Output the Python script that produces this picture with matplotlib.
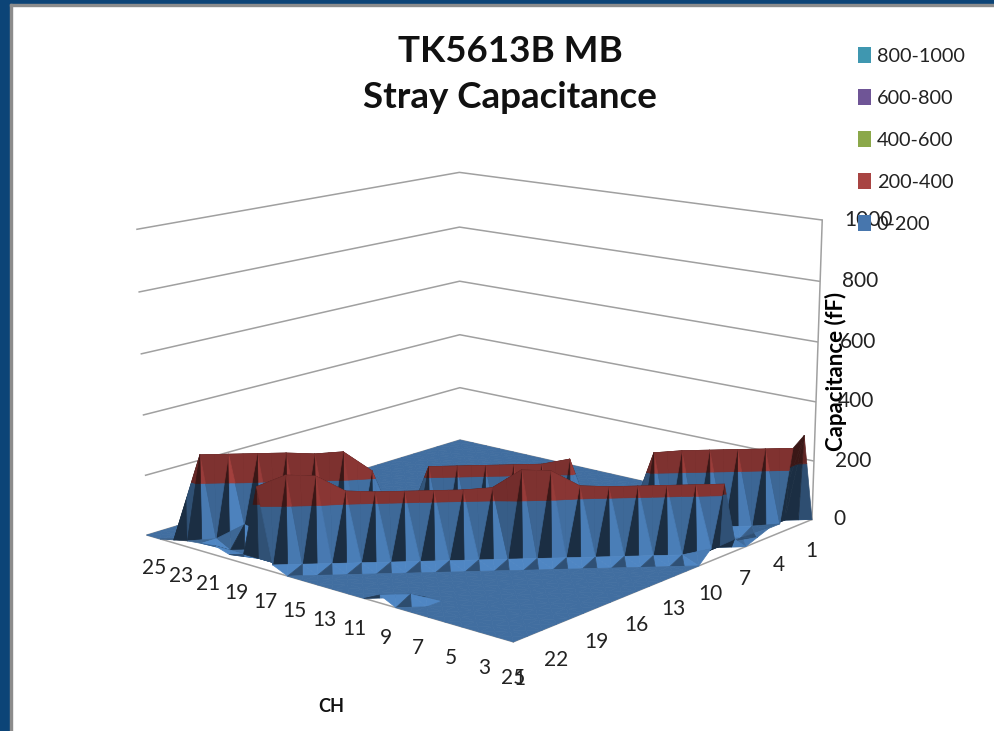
import matplotlib
matplotlib.use("Agg")
import numpy as np
import matplotlib.pyplot as plt
from matplotlib.patches import Patch, Rectangle
from mpl_toolkits.mplot3d import proj3d
from mpl_toolkits.mplot3d.art3d import Poly3DCollection

plt.rcParams['font.family'] = ['Lato', 'DejaVu Sans']

TITLE = "TK5613B MB\nStray Capacitance"
XLABEL = "CH"
ZLABEL = "Capacitance (fF)"
CH = list(range(1, 26))
CH_TICKS = [1, 3, 5, 7, 9, 11, 13, 15, 17, 19, 21, 23, 25]
ROW_TICKS = [1, 4, 7, 10, 13, 16, 19, 22, 25]
Z_TICKS = [0, 200, 400, 600, 800, 1000]
BAND_LABELS = ["800-1000", "600-800", "400-600", "200-400", "0-200"]
BAND_COLORS = ["#3f97b0", "#6f5596", "#8ba84a", "#a84442", "#4776ad"]

# rows: second axis 1..25, columns: CH 1..25
capacitance = [
    [  0,  0,  0,  0,  0,  0,  0,  0,  0,  0,  0,  0,  0,  0,  0,  0,  0,  0,  0,  0,  0,  0,  0,  0,  0],
    [300,  0,  0,  0,  0,  0,  0,  0,  0,  0,  0,  0,  0,  0,  0,  0,  0,  0,  0,  0,  0,  0,  0,  0,  0],
    [270,  0,  0,  0,  0,  0,  0,  0,  0,  0,  0,  0,  0,  0,  0,  0,  0,  0,  0,  0,  0,  0,  0,  0,  0],
    [ 30,270,  0,  0,  0,  0,  0,  0,  0,  0,  0,  0,  0,  0,  0,  0,  0,  0,  0,  0,  0,  0,  0,  0,  0],
    [ 30, 25,270,  0,  0,  0,  0,  0,  0,  0,  0,  0,  0,  0,  0,  0,  0,  0,  0,  0,  0,  0,  0,  0,  0],
    [ 15,  0, 25,270,  0,  0,  0,  0,  0,  0,  0,  0,  0,  0,  0,  0,  0,  0,  0,  0,  0,  0,  0,  0,  0],
    [  0,  0,  0, 25,270,  0,  0,  0,  0,  0,  0,  0,  0,  0,  0,  0,  0,  0,  0,  0,  0,  0,  0,  0,  0],
    [ 40,  0,  0,  0, 25,265,  0,  0,  0,  0,  0,  0,  0,  0,  0,  0,  0,  0,  0,  0,  0,  0,  0,  0,  0],
    [235,  0,  0,  0,  0,  0,  0,  0,  0,  0,  0,  0,  0,  0,  0,  0,  0,  0,  0,  0,  0,  0,  0,  0,  0],
    [ 40,235,  0,  0,  0,  0,  0,  0,  0,  0,  0,  0,  0,  0,  0,  0,  0,  0,  0,  0,  0,  0,  0,  0,  0],
    [  0, 22,235,  0,  0,  0,  0,  0,250,  0,  0,  0,  0,  0,  0,  0,  0,  0,  0,  0,  0,  0,  0,  0,  0],
    [  0,  0, 22,235,  0,  0,  0,  0,  0,235,  0,  0,  0,  0,  0,  0,  0,  0,  0,  0,  0,  0,  0,  0,  0],
    [  0,  0,  0, 22,235,  0,  0,  0,  0,  0,235,  0,  0,  0,  0,  0,  0,  0,  0,  0,  0,  0,  0,  0,  0],
    [  0,  0,  0,  0, 22,240,  0,  0,  0,  0,  0,235,  0,  0,  0,  0,  0,  0,  0,  0,  0,  0,  0,  0,  0],
    [  0,  0,  0,  0,  0, 22,290,  0,  0,  0,  0,  0,235,  0,  0,  0,  0,  0,  0,  0,  0,  0,  0,  0,  0],
    [  0,  0,  0,  0,  0,  0, 22,295,  0,  0,  0,  0,  0,235,  0,  0,  0,  0,  0,  0,  0,  0,  0,  0,  0],
    [  0,  0,  0,  0,  0,  0,  0, 22,240,  0,  0,  0,  0,  0,  0,  0,  0,  0,  0,  0,  0,  0,  0,  0,  0],
    [  0,  0,  0,  0,  0,  0,  0,  0, 22,235,  0,  0,  0,  0,  0,225,  0,  0,  0,  0,  0,  0,  0,  0,  0],
    [  0,  0,  0,  0,  0,  0,  0,  0,  0, 22,235,  0,  0,  0,  0,  0,290,  0,  0,  0,  0,  0,  0,  0,  0],
    [  0,  0,  0,  0,  0,  0,  0,  0,  0,  0, 22,235,  0,  0,  0,  0, 25,285,  0,  0,  0,  0,  0,  0,  0],
    [  0,  0,  0,  0,  0,  0,  0,  0,  0,  0,  0, 22,235,  0,  0,  0,  0, 25,290,  0,  0,  0,  0,  0,  0],
    [  0,  0,  0,  0,  0,  0,  0,  0,  0,  0,  0,  0, 22,240,  0,  0,  0,  0, 25,290,  0,  0,  0,  0,  0],
    [  0,  0,  0,  0,  0,  0,  0,  0,  0,  0,  0,  0,  0, 22,290,  0,  0,  0,  0, 70,290,  0,  0,  0,  0],
    [  0,  0,  0,  0,  0,  0,  0, 25,  0,  0,  0,  0,  0,  0, 22,295,  0,  0,  0,  0, 25,290,  0,  0,  0],
    [  0,  0,  0,  0,  0,  0,  0,  0, 25,  0,  0,  0,  0,  0,  0, 22,260, 30, 15, 30, 25, 20, 10,  0,  0],
]

BAND_EDGES = [0, 200, 400, 600, 800, 1000]
BLUE_BASE = np.array([65, 110, 160]) / 255
RED_BASE = np.array([137, 54, 52]) / 255

Z = np.array(capacitance, dtype=float)
xs = np.array(CH, dtype=float)
ASPECT = (1, 1, 0.65)


def split_at(tri, level):
    """Cut a triangle at z=level; returns (below, above) lists of polygons."""
    below, above = [], []
    n = len(tri)
    for i in range(n):
        a, b = tri[i], tri[(i + 1) % n]
        if a[2] <= level:
            below.append(a)
        if a[2] >= level:
            above.append(a)
        if (a[2] - level) * (b[2] - level) < 0:
            t = (level - a[2]) / (b[2] - a[2])
            p = a + t * (b - a)
            below.append(p)
            above.append(p)
    return below, above


def shade(tri, base):
    s = np.array([1 / 24 * ASPECT[0], 1 / 24 * ASPECT[1], 1 / 1000 * ASPECT[2]])
    u, v = (tri[1] - tri[0]) * s, (tri[2] - tri[0]) * s
    n = np.cross(u, v)
    n = n / (np.linalg.norm(n) + 1e-12)
    if n[2] < 0:
        n = -n
    right = np.array([-0.76, -0.65, 0])
    front = np.array([-0.65, 0.76, 0])
    up = np.array([0, 0, 1.0])
    f = n @ (0.8 * right + 0.7 * front + 1.0 * up)
    f = np.clip(f, 0.42, 1.22)
    return np.clip(base * f, 0, 1)


polys, cols = [], []
for j in range(24):
    for i in range(24):
        c00 = np.array([xs[i], xs[j], Z[j, i]])
        c10 = np.array([xs[i + 1], xs[j], Z[j, i + 1]])
        c11 = np.array([xs[i + 1], xs[j + 1], Z[j + 1, i + 1]])
        c01 = np.array([xs[i], xs[j + 1], Z[j + 1, i]])
        m = (c00 + c10 + c11 + c01) / 4
        # the drawn centre lies on the cell's left-right diagonal
        m[2] = (c00[2] + c11[2]) / 2
        top = max(c00[2], c10[2], c11[2], c01[2])
        # facets touching a cell's highest corner are lit as steep folds
        m_light = m.copy()
        m_light[2] = max(m[2], 0.8 * top)
        for a, b in ((c00, c10), (c10, c11), (c11, c01), (c01, c00)):
            tri = [a, b, m]
            lit = [a, b, m_light] if max(a[2], b[2]) == top else tri
            col_lo = shade(lit, BLUE_BASE)
            col_hi = shade(lit, RED_BASE)
            lo, hi = split_at(tri, BAND_EDGES[1])
            if len(lo) >= 3:
                polys.append(np.array(lo))
                cols.append(col_lo)
            if len(hi) >= 3:
                polys.append(np.array(hi))
                cols.append(col_hi)

fig = plt.figure(figsize=(9.94, 7.31), dpi=100, facecolor='white')
# slide frame behind the chart
fig.add_artist(Rectangle((0, 0), 10 / 994, 1, transform=fig.transFigure, color='#0c4477', zorder=-5))
fig.add_artist(Rectangle((0, 1 - 4 / 731), 1, 4 / 731, transform=fig.transFigure, color='#0c4477', zorder=-5))
fig.add_artist(Rectangle((10 / 994, 0), 2 / 994, 1 - 4 / 731, transform=fig.transFigure, color='#8c8c8c', zorder=-5))
fig.add_artist(Rectangle((10 / 994, 1 - 6 / 731), 1, 2 / 731, transform=fig.transFigure, color='#8c8c8c', zorder=-5))

ax = fig.add_axes([-0.024, -0.031, 1, 1], projection='3d')
ax.patch.set_alpha(0)
ax.set_proj_type('persp', focal_length=0.6)
ax.view_init(elev=13.7, azim=130.5)
ax.set_box_aspect(ASPECT, zoom=0.99)
ax.set_xlim(1, 25)
ax.set_ylim(1, 25)
ax.set_zlim(0, 1000)

coll = Poly3DCollection(polys, facecolors=cols, edgecolors=cols, linewidths=0.5, zsort='average')
ax.add_collection3d(coll)

ax.set_xticks(CH_TICKS)
ax.set_yticks(ROW_TICKS)
ax.set_zticks(Z_TICKS)
for axis in (ax.xaxis, ax.yaxis, ax.zaxis):
    axis.set_major_formatter(matplotlib.ticker.NullFormatter())


def label_at(x, y, z, text, ha):
    # axis numbers are placed at the projected point of the floor edge below them
    px, py, _ = proj3d.proj_transform(x, y, z, ax.get_proj())
    ax.text2D(px, py, text, transform=ax.transData, fontsize=15, color='#222222', va='center', ha=ha)


for v in CH_TICKS:
    label_at(v, 24.6, -118, str(v), 'center')
for v in ROW_TICKS:
    label_at(1, v, -108, str(v), 'center')
for v in Z_TICKS:
    label_at(1 - 0.78, 1 - 0.78, v, str(v), 'left')

for axis in (ax.xaxis, ax.yaxis, ax.zaxis):
    axis.set_pane_color((1, 1, 1, 0))
    axis.pane.set_edgecolor((1, 1, 1, 0))
    axis.line.set_color('#a0a0a0')
    axis.line.set_linewidth(1.1)
    axis._axinfo['tick']['inward_factor'] = 0
    axis._axinfo['tick']['outward_factor'] = 0
for axis in (ax.xaxis, ax.yaxis):
    axis._axinfo['grid']['color'] = (1, 1, 1, 0)
    axis._axinfo['grid']['linewidth'] = 0
ax.zaxis._axinfo['grid']['color'] = '#a0a0a0'
ax.zaxis._axinfo['grid']['linewidth'] = 1.1
ax.zaxis.set_ticks_position('lower')
ax.zaxis.set_label_position('lower')

ax.zaxis.set_rotate_label(False)
ax.set_zlabel(ZLABEL, fontsize=16, fontweight='bold', rotation=90, labelpad=-13)
fig.text(331 / 994, 1 - 707 / 731, XLABEL, ha='center', va='center', fontsize=13, fontweight='bold', color='#111111')

fig.text(510 / 994, 1 - 74.5 / 731, TITLE, ha='center', va='center', fontsize=26.5, fontweight='bold',
         color='#111111', linespacing=1.5)

handles = [Patch(facecolor=c, edgecolor='none') for c in BAND_COLORS]
fig.legend(handles, BAND_LABELS, loc='upper left', bbox_to_anchor=(858 / 994, 1 - 47 / 731),
           frameon=False, fontsize=14.3, handlelength=0.65, handleheight=0.9, handletextpad=0.3,
           labelspacing=1.2, labelcolor='#222222', borderpad=0, borderaxespad=0)

fig.savefig('out.png', dpi=100)
